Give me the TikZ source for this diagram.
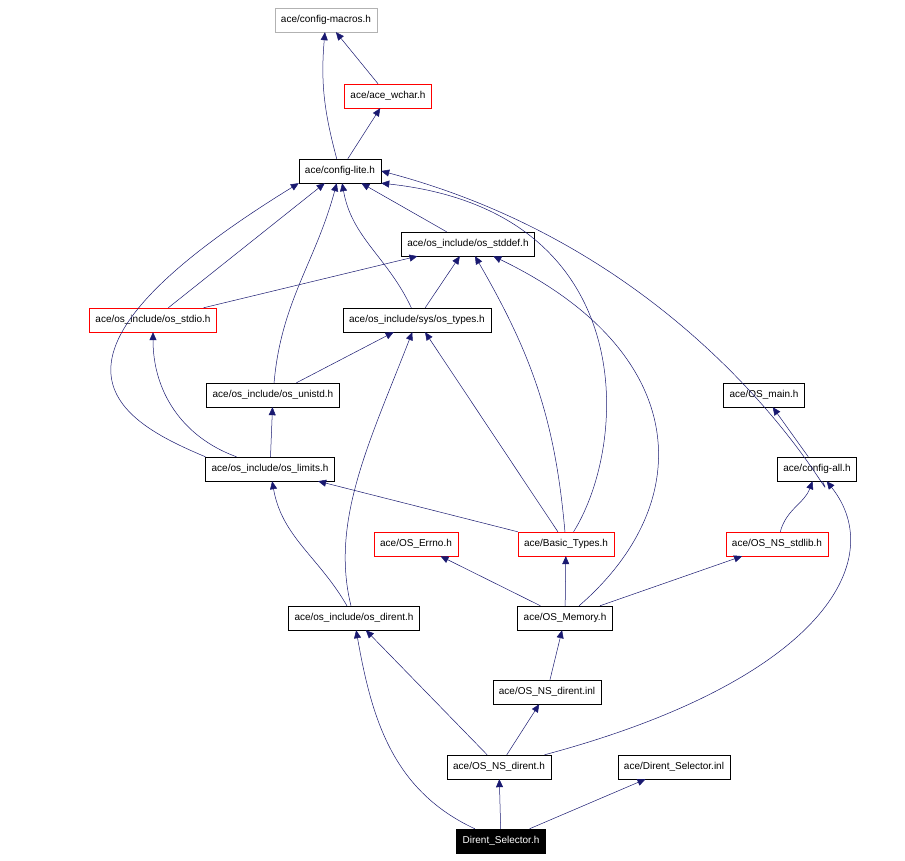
\documentclass[tikz,border=0pt]{standalone}
\usepackage{fontspec}
\setmainfont{Liberation Sans}
\usetikzlibrary{arrows.meta}
\definecolor{edge}{HTML}{191970}
\begin{document}
\begin{tikzpicture}[x=1pt,y=1pt,
  box/.style={draw=black,fill=white,minimum height=24,inner xsep=6,font=\fontsize{10}{12}\selectfont},
  red/.style={box,draw=red},
  grey/.style={box,draw=gray!60},
  root/.style={box,fill=black,text=white},
  e/.style={draw=edge,-{Triangle[length=8,width=7]}, line width=0.5}]
\useasboundingbox (0,0) rectangle (905,861);
\node[grey] (cm) at (326,841) {ace/config-macros.h};
\node[red] (wc) at (388,765) {ace/ace\_wchar.h};
\node[box] (cl) at (340,690) {ace/config-lite.h};
\node[box] (sd) at (468,617) {ace/os\_include/os\_stddef.h};
\node[red] (st) at (153,541) {ace/os\_include/os\_stdio.h};
\node[box] (ty) at (417,541) {ace/os\_include/sys/os\_types.h};
\node[box] (un) at (273,466) {ace/os\_include/os\_unistd.h};
\node[box] (om) at (764,466) {ace/OS\_main.h};
\node[box] (li) at (270,392) {ace/os\_include/os\_limits.h};
\node[box] (ca) at (817,392) {ace/config-all.h};
\node[red] (er) at (416,317) {ace/OS\_Errno.h};
\node[red] (bt) at (566,317) {ace/Basic\_Types.h};
\node[red] (nsl) at (777,317) {ace/OS\_NS\_stdlib.h};
\node[box] (di) at (354,243) {ace/os\_include/os\_dirent.h};
\node[box] (me) at (565,243) {ace/OS\_Memory.h};
\node[box] (nsi) at (547,169) {ace/OS\_NS\_dirent.inl};
\node[box] (nsd) at (499,94) {ace/OS\_NS\_dirent.h};
\node[box] (dsi) at (674,94) {ace/Dirent\_Selector.inl};
\node[root] (ds) at (501,20) {Dirent\_Selector.h};

\draw[e] (cl) to[out=105,in=-95] (cm);
\draw[e] (wc) -- (cm);
\draw[e] (cl) -- (wc);
\draw[e] (sd) -- (cl);
\draw[e] (st) -- (cl);
\draw[e] (st) -- (sd);
\draw[e] (ty) to[out=115,in=-80] (cl);
\draw[e] (ty) -- (sd);
\draw[e] (un) to[out=85,in=-105] (cl);
\draw[e] (un) -- (ty);
\draw[e] (li.north west) .. controls (120,440) and (10,500) .. (cl.south west);
\draw[e] (li) to[out=160,in=-90] (st);
\draw[e] (li) -- (un);
\draw[e] (ca) .. controls (845,330) and (720,600) .. (cl.east);
\draw[e] (ca) -- (om);
\draw[e] (bt) .. controls (630,420) and (640,650) .. (cl.south east);
\draw[e] (bt) to[out=95,in=-60] (sd);
\draw[e] (bt) -- (ty);
\draw[e] (bt) -- (li);
\draw[e] (nsl) to[out=75,in=-110] (ca);
\draw[e] (di) to[out=120,in=-80] (li);
\draw[e] (di) .. controls (330,340) and (370,420) .. (ty);
\draw[e] (me) -- (er);
\draw[e] (me) -- (bt);
\draw[e] (me) -- (nsl);
\draw[e] (me) .. controls (700,360) and (690,510) .. (sd);
\draw[e] (nsi) -- (me);
\draw[e] (nsd) -- (di);
\draw[e] (nsd) -- (nsi);
\draw[e] (nsd) .. controls (820,180) and (890,300) .. (ca);
\draw[e] (ds) to[out=155,in=-80] (di);
\draw[e] (ds) -- (nsd);
\draw[e] (ds) -- (dsi);
\end{tikzpicture}
\end{document}
